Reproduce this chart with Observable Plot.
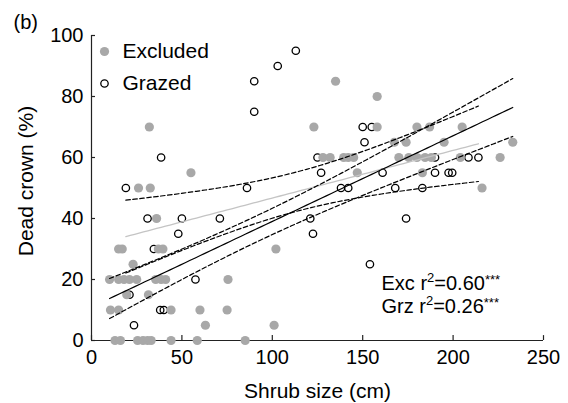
<!DOCTYPE html>
<html><head><meta charset="utf-8">
<script src="https://cdn.jsdelivr.net/npm/d3@7"></script>
<script src="https://cdn.jsdelivr.net/npm/@observablehq/plot@0.6"></script>
<style>
html,body{margin:0;padding:0;background:#fff;}
#chart{width:568px;height:403px;}
</style></head><body>
<div id="chart"></div>
<script>
// Excluded (grey filled) points, grouped by dead-crown level
const excX = [13,16,25.5,28.5,31,33,44,58.5,85,
  63,101,
  10.5,15,44,60,75,
  19.5,31.5,
  10,15,18,21,25,35.5,38.5,41,75.5,
  23,
  15,17,37,39.5,102,
  36,
  26,32.5,216,
  55,147,183,
  128,132,139.5,142,145,170,175.5,180,184.5,188,204,226,
  167.5,174,195,233,
  32,123,158,180,187,205,
  158,
  135];
const excY = [0,0,0,0,0,0,0,0,0,
  5,5,
  10,10,10,10,10,
  15,15,
  20,20,20,20,20,20,20,20,20,
  25,
  30,30,30,30,30,
  40,
  50,50,50,
  55,55,55,
  60,60,60,60,60,60,60,60,60,60,60,60,
  65,65,65,65,
  70,70,70,70,70,70,
  80,
  85];
// Grazed (open) points
const grzX = [19,38.5,31,50,48,34.5,21,38,40,23.5,113,103,90,90,86,71,57.5,121,122.5,150,155,151,125,127,161,138,142,168,183,174,154,190,208.5,214,190,197.5,199.5];
const grzY = [50,60,40,40,35,30,15,10,10,5,95,90,85,75,50,40,20,40,35,70,70,65,60,55,55,50,50,50,50,40,25,60,60,60,55,55,55];

const xTicks = [0,50,100,150,200,250];
const yTicks = [0,20,40,60,80,100];
const legendLabels = ["Excluded","Grazed"];
const statLabels = ["Exc","Grz"];
const r2Values = ["0.60","0.26"];
const sigStars = ["***","***"];
const panelTag = "(b)";
const xTitle = "Shrub size (cm)";
const yTitle = "Dead crown (%)";

const exc = excX.map((x,i)=>({x, y: excY[i]}));
const grz = grzX.map((x,i)=>({x, y: grzY[i]}));

// least squares fit with 95% confidence band of the mean
function fit(xs, ys){
  const n = xs.length, mx = d3.mean(xs), my = d3.mean(ys);
  let sxx=0, sxy=0, syy=0;
  for(let i=0;i<n;i++){const dx=xs[i]-mx, dy=ys[i]-my; sxx+=dx*dx; sxy+=dx*dy; syy+=dy*dy;}
  const b = sxy/sxx, a = my - b*mx;
  const df = n-2, s = Math.sqrt((syy - b*sxy)/df), z = 1.959964;
  const t = z + (z**3+z)/(4*df) + (5*z**5+16*z**3+3*z)/(96*df*df);
  const [x0,x1] = d3.extent(xs);
  return d3.range(0,81).map(i=>{
    const x = x0 + (x1-x0)*i/80, yh = a + b*x;
    const h = t*s*Math.sqrt(1/n + (x-mx)**2/sxx);
    return {x, y: yh, lo: yh-h, hi: yh+h};
  });
}
const excFit = fit(excX, excY);
const grzFit = fit(grzX, grzY);

const FONT = '"Liberation Sans", Arial, Helvetica, sans-serif';
const GREY = "#a8a8a8";
const dash = "4.5,2.5";

const statText = statLabels.map((l,i)=>`${l} r2=${r2Values[i]}${sigStars[i]}`);

const svg = Plot.plot({
  width: 568, height: 403,
  marginLeft: 91, marginRight: 25, marginTop: 35, marginBottom: 63,
  style: {fontFamily: FONT, fontSize: "20px", background: "white", color: "black"},
  x: {domain: [0,250], ticks: xTicks, tickSize: 0, tickPadding: 9, label: null},
  y: {domain: [0,100], ticks: yTicks, tickSize: 0, tickPadding: 8, label: null},
  marks: [
    Plot.ruleX([0], {stroke: "#222", strokeWidth: 1.2}),
    Plot.ruleY([0], {stroke: "#222", strokeWidth: 1.2}),
    Plot.ruleX(xTicks, {x: d=>d, y1: 0, y2: 1.6, stroke: "#222", strokeWidth: 1.2}),
    Plot.ruleY(yTicks, {y: d=>d, x1: 0, x2: 2.2, stroke: "#222", strokeWidth: 1.2}),
    Plot.dot(grz, {x: "x", y: "y", r: 3.7, fill: "none", stroke: "black", strokeWidth: 1.3}),
    Plot.dot(exc, {x: "x", y: "y", r: 4.6, fill: GREY, stroke: "none"}),
    Plot.line(grzFit, {x: "x", y: "y", stroke: "#c4c4c4", strokeWidth: 1.3}),
    Plot.line(grzFit, {x: "x", y: "lo", stroke: "black", strokeWidth: 1.2, strokeDasharray: dash}),
    Plot.line(grzFit, {x: "x", y: "hi", stroke: "black", strokeWidth: 1.2, strokeDasharray: dash}),
    Plot.line(excFit, {x: "x", y: "y", stroke: "black", strokeWidth: 1.2}),
    Plot.line(excFit, {x: "x", y: "lo", stroke: "black", strokeWidth: 1.2, strokeDasharray: dash}),
    Plot.line(excFit, {x: "x", y: "hi", stroke: "black", strokeWidth: 1.2, strokeDasharray: dash}),
    // legend
    Plot.dot([legendLabels[0]], {frameAnchor: "top-left", dx: 13, dy: 16, r: 4.6, fill: GREY}),
    Plot.dot([legendLabels[1]], {frameAnchor: "top-left", dx: 13, dy: 48, r: 3.7, fill: "none", stroke: "black", strokeWidth: 1.3}),
    Plot.text([legendLabels[0]], {text: d=>d, frameAnchor: "top-left", dx: 31, dy: 16, textAnchor: "start", lineAnchor: "middle", fontSize: 21}),
    Plot.text([legendLabels[1]], {text: d=>d, frameAnchor: "top-left", dx: 31, dy: 48, textAnchor: "start", lineAnchor: "middle", fontSize: 21}),
    // statistics
    Plot.text([statText[0]], {text: d=>d, frameAnchor: "top-left", dx: 290, dy: 248, textAnchor: "start", lineAnchor: "middle", fontSize: 20}),
    Plot.text([statText[1]], {text: d=>d, frameAnchor: "top-left", dx: 290, dy: 271, textAnchor: "start", lineAnchor: "middle", fontSize: 20}),
    // titles
    Plot.text([xTitle], {text: d=>d, frameAnchor: "bottom", dy: 51, lineAnchor: "middle", textAnchor: "middle", fontSize: 21}),
    Plot.text([yTitle], {text: d=>d, frameAnchor: "left", rotate: -90, dx: -65, dy: -7, textAnchor: "middle", lineAnchor: "middle", fontSize: 21}),
    Plot.text([panelTag], {text: d=>d, frameAnchor: "top-left", dx: -78, dy: -13, textAnchor: "start", lineAnchor: "middle", fontSize: 20})
  ]
});

// superscripts in the statistics labels
d3.select(svg).selectAll("text").each(function(){
  const m = this.textContent.match(/^(\w+ r)2(=[\d.]+)(\*+)$/);
  if(!m) return;
  const el = d3.select(this);
  el.text(null);
  el.append("tspan").text(m[1]);
  el.append("tspan").attr("font-size", 13).attr("dy", -8).text("2");
  el.append("tspan").attr("dy", 8).text(m[2]);
  el.append("tspan").attr("font-size", 13).attr("dy", -6).text(m[3]);
});

document.getElementById("chart").appendChild(svg);
</script>
</body></html>
